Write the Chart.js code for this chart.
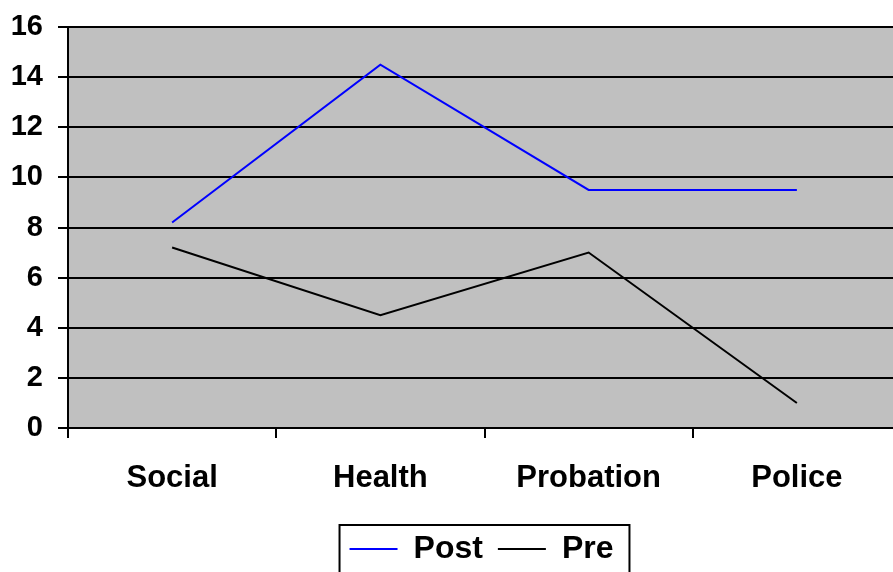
<!DOCTYPE html>
<html lang="en">
<head>
    <meta charset="UTF-8">
    <title>Post vs Pre</title>
    <style>
        html, body {
            margin: 0;
            padding: 0;
            background: #fff;
            overflow: hidden;
        }
        .wrap {
            width: 970px;
            height: 572px;
        }
    </style>
</head>
<body>
    <div class="wrap">
        <canvas id="lineChart"></canvas>
    </div>

    <script src="https://cdn.jsdelivr.net/npm/chart.js"></script>
    <script>
        // data
        var categories = ['Social', 'Health', 'Probation', 'Police'];
        var postValues = [8.2, 14.5, 9.5, 9.5];
        var preValues = [7.2, 4.5, 7.0, 1.0];
        var yTicks = [0, 2, 4, 6, 8, 10, 12, 14, 16];

        var fontFamily = '"Liberation Sans", Arial, sans-serif';

        // grey plot background
        var plotBg = {
            id: 'plotBg',
            beforeDraw: function (chart) {
                var a = chart.chartArea;
                var ctx = chart.ctx;
                ctx.save();
                ctx.fillStyle = '#c0c0c0';
                ctx.fillRect(a.left, a.top, a.right - a.left, a.bottom - a.top);
                ctx.restore();
            }
        };

        // nudge the legend so it sits centred under the (clipped) plot
        var legendShift = {
            id: 'legendShift',
            afterLayout: function (chart) {
                var lg = chart.legend;
                lg.left += 31;
                lg.right += 31;
                lg.top += 3;
                lg.bottom += 3;
            }
        };

        // frame around the legend
        var legendFrame = {
            id: 'legendFrame',
            afterDraw: function (chart) {
                var boxes = chart.legend.legendHitBoxes;
                if (!boxes || !boxes.length) return;
                var first = boxes[0];
                var last = boxes[boxes.length - 1];
                var cy = first.top + first.height / 2;
                var ctx = chart.ctx;
                ctx.save();
                ctx.strokeStyle = '#000';
                ctx.lineWidth = 2;
                ctx.strokeRect(first.left - 10, cy - 24, last.left + last.width - first.left + 26, 70);
                ctx.restore();
            }
        };

        var ctx = document.getElementById('lineChart').getContext('2d');
        var chart = new Chart(ctx, {
            type: 'line',
            data: {
                labels: categories,
                datasets: [{
                    label: 'Post',
                    data: postValues,
                    borderColor: '#0000ff',
                    backgroundColor: '#0000ff',
                    borderWidth: 2,
                    pointRadius: 0,
                    pointStyle: 'line',
                    tension: 0
                }, {
                    label: 'Pre',
                    data: preValues,
                    borderColor: '#000000',
                    backgroundColor: '#000000',
                    borderWidth: 2,
                    pointRadius: 0,
                    pointStyle: 'line',
                    tension: 0
                }]
            },
            options: {
                responsive: true,
                maintainAspectRatio: false,
                animation: false,
                layout: {
                    padding: { top: 27, right: 69, left: 0, bottom: 0 }
                },
                plugins: {
                    tooltip: { enabled: false },
                    legend: {
                        position: 'bottom',
                        labels: {
                            usePointStyle: true,
                            pointStyleWidth: 48,
                            boxHeight: 2,
                            padding: 15,
                            color: '#000',
                            font: { family: fontFamily, size: 32, weight: 'bold' }
                        }
                    }
                },
                scales: {
                    x: {
                        offset: true,
                        grid: {
                            offset: true,
                            drawOnChartArea: false,
                            drawTicks: true,
                            tickLength: 10,
                            color: '#000',
                            lineWidth: 2
                        },
                        border: { color: '#000', width: 2 },
                        ticks: {
                            color: '#000',
                            padding: 22,
                            maxRotation: 0,
                            font: { family: fontFamily, size: 31, weight: 'bold' }
                        },
                        afterFit: function (axis) { axis.height = 87; }
                    },
                    y: {
                        min: 0,
                        max: 16,
                        afterBuildTicks: function (axis) {
                            axis.ticks = yTicks.map(function (v) { return { value: v }; });
                        },
                        grid: {
                            color: '#000',
                            lineWidth: 2,
                            drawTicks: true,
                            tickLength: 10
                        },
                        border: { color: '#000', width: 2 },
                        ticks: {
                            color: '#000',
                            padding: 15,
                            font: { family: fontFamily, size: 29, weight: 'bold' }
                        },
                        afterFit: function (axis) {
                            axis.width = 68;
                            axis.paddingTop = 0;
                            axis.paddingBottom = 0;
                        }
                    }
                }
            },
            plugins: [plotBg, legendShift, legendFrame]
        });
    </script>
</body>
</html>
